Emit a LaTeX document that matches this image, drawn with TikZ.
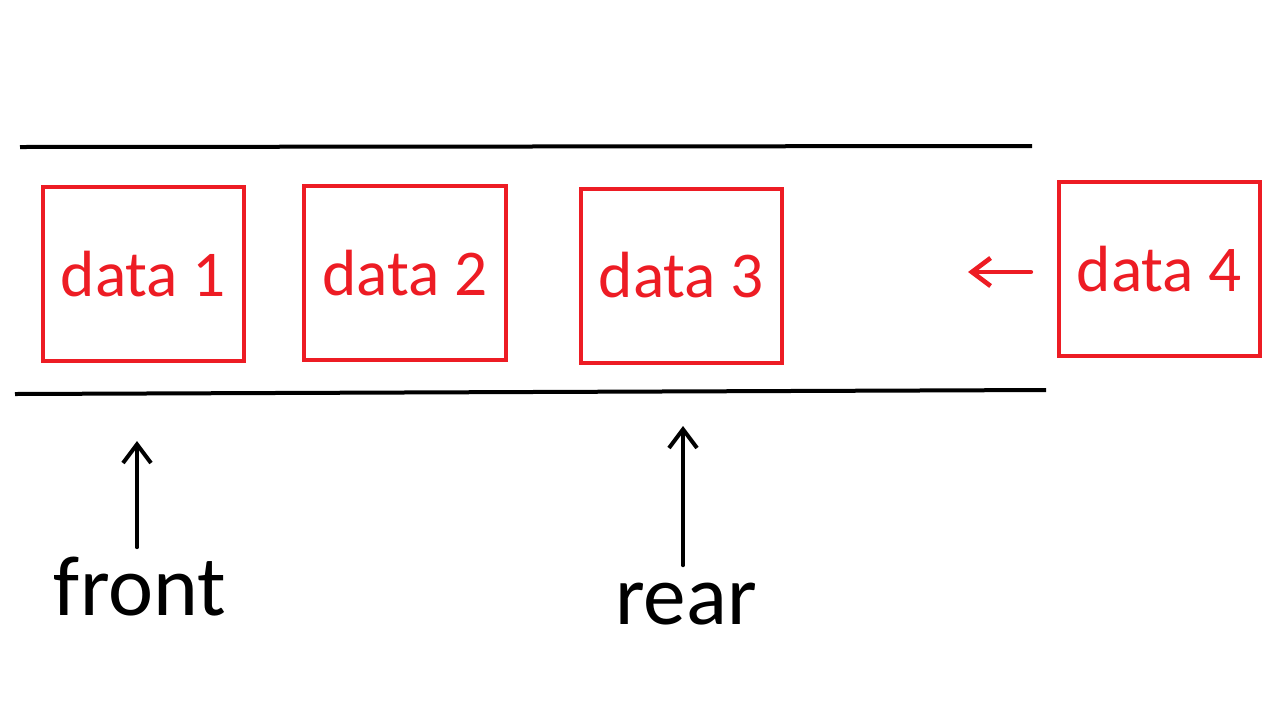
\documentclass[tikz,border=0pt]{standalone}
\usepackage{fontspec}
\setmainfont{Carlito}
\usetikzlibrary{arrows.meta}

\definecolor{paintred}{RGB}{237,28,36}

\begin{document}
\begin{tikzpicture}[x = 0.75pt, y = -0.75pt,
	cell/.style = {draw = paintred, text = paintred, line width = 3pt, inner sep = 0pt,
		minimum width = 151pt, minimum height = 130.5pt, font = \fontsize{49}{58}\selectfont},
	endlabel/.style = {anchor = base, inner sep = 0pt, font = \fontsize{64}{76}\selectfont},
	pointer/.style = {-{Straight Barb[length = 14pt, width = 21pt]}, line width = 3pt, line cap = round}]

	\useasboundingbox (0, 0) rectangle (1280, 722);

	% Walls of the queue

	\begin{scope}[line width = 3pt]

		\draw (20, 147) -- (1032, 146);
		\draw (15, 394) -- (1046, 390);

	\end{scope}

	% Queued data and the incoming one

	\node [cell] (data1) at (143.5, 274) {data 1};
	\node [cell] (data2) at (405, 273) {data 2};
	\node [cell] (data3) at (681.5, 275.5) {data 3};
	\node [cell] (data4) at (1159.5, 269) {data 4};

	% Front and rear pointers

	\node [endlabel, outer ysep = 7pt] (front) at (140, 615) {front};
	\node [endlabel, outer ysep = 13pt] (rear) at (686, 624) {rear};

	\coordinate (fronttip) at (137, 441);
	\coordinate (reartip) at (683, 426);
	\coordinate (inserttip) at (968, 272);

	\begin{scope}[pointer]

		\draw (front.north -| fronttip) -- (fronttip);
		\draw (rear.north -| reartip) -- (reartip);

		\draw [paintred, line width = 3.5pt, shorten <= 19.5pt] (data4.west |- inserttip) -- (inserttip);

	\end{scope}

\end{tikzpicture}
\end{document}
